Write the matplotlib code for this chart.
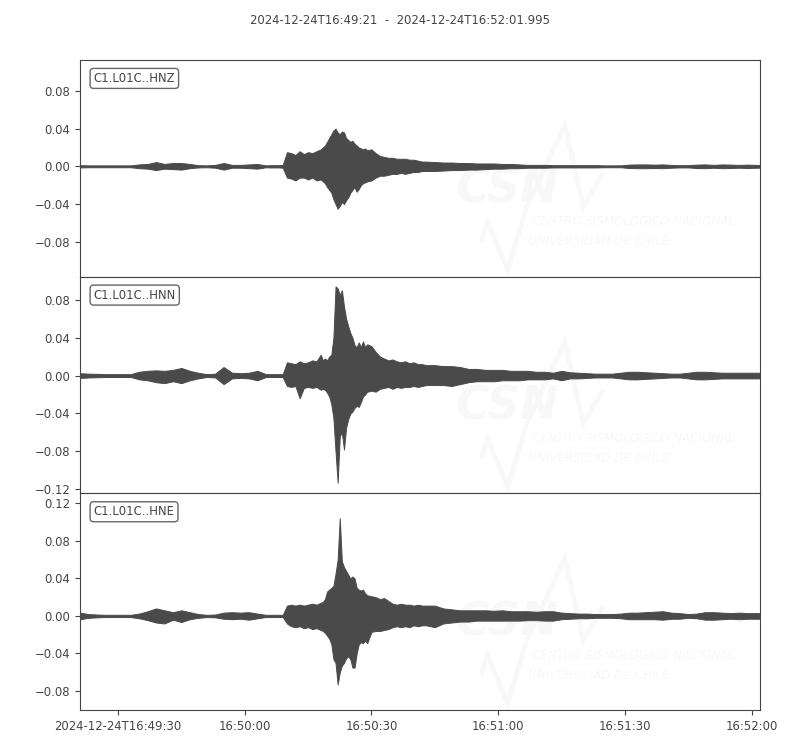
import datetime as dt
import numpy as np
import matplotlib
matplotlib.use("Agg")
import matplotlib.pyplot as plt
import matplotlib.dates as mdates
from matplotlib.ticker import MultipleLocator, FuncFormatter, FixedLocator, FixedFormatter

# ---------------- data ----------------
start_time = "2024-12-24T16:49:21"
end_time = "2024-12-24T16:52:01.995"
channels = ["C1.L01C..HNZ", "C1.L01C..HNN", "C1.L01C..HNE"]

# envelope sample times, seconds after start
times = [0, 2, 4, 6, 8, 10, 12, 14, 16, 18, 20, 22, 24, 26, 28, 30, 32, 34, 36, 38, 40, 42, 44,
         45, 46, 47, 48, 49, 50, 51, 52, 53, 54, 55, 56, 57,
         57.5, 58, 58.5, 59, 59.5, 60, 60.5, 61, 61.5, 62, 62.5, 63, 63.5, 64, 64.5, 65, 65.5,
         66, 66.5, 67, 67.5, 68,
         69, 70, 71, 72, 73, 74, 75, 76, 77, 78, 79, 80, 81, 82,
         84, 86, 88, 90, 92, 94, 96, 98, 100, 102, 104, 106, 108, 110, 112, 114, 116, 118, 120,
         122, 124, 126, 128, 130, 132, 134, 136, 138, 140, 142, 144, 146, 148, 150, 152, 154,
         156, 158, 160, 161]

# HNZ envelope (m/s^2): upper maxima and lower minima (magnitudes)
hnz_upper = [0.0012, 0.001, 0.001, 0.001, 0.001, 0.001, 0.001, 0.002, 0.0025, 0.0045, 0.0025, 0.0035,
             0.0035, 0.0025, 0.0012, 0.001, 0.0015, 0.0035, 0.0015, 0.0015, 0.002, 0.0025, 0.001,
             0.0012, 0.0012, 0.0012, 0.0015, 0.015, 0.014, 0.012, 0.016, 0.013, 0.015, 0.014, 0.016, 0.018,
             0.020, 0.022, 0.026, 0.030, 0.034, 0.038, 0.040, 0.036, 0.034, 0.037, 0.036, 0.030, 0.028,
             0.026, 0.027, 0.024, 0.022, 0.020, 0.019, 0.018, 0.019, 0.017,
             0.018, 0.014, 0.011, 0.010, 0.009, 0.009, 0.008, 0.008, 0.008, 0.007, 0.007, 0.006, 0.005, 0.005,
             0.0045, 0.004, 0.004, 0.0035, 0.0035, 0.003, 0.003, 0.003, 0.0025, 0.0025, 0.002, 0.0015, 0.0015,
             0.0015, 0.0012, 0.0012, 0.0012, 0.0012, 0.0012, 0.0012, 0.001, 0.001, 0.001, 0.0018, 0.002, 0.002,
             0.0018, 0.002, 0.0015, 0.0012, 0.0012, 0.0018, 0.002, 0.0015, 0.002, 0.0018, 0.0015, 0.0018,
             0.0015, 0.0015]
hnz_lower = [0.0012, 0.001, 0.001, 0.001, 0.001, 0.001, 0.001, 0.002, 0.0025, 0.004, 0.0025, 0.003,
             0.0035, 0.002, 0.0012, 0.001, 0.0015, 0.0035, 0.0015, 0.0015, 0.002, 0.0025, 0.001,
             0.0012, 0.0012, 0.0012, 0.0015, 0.012, 0.013, 0.015, 0.012, 0.012, 0.014, 0.012, 0.015, 0.014,
             0.016, 0.018, 0.022, 0.025, 0.028, 0.035, 0.040, 0.045, 0.042, 0.038, 0.040, 0.036, 0.033,
             0.028, 0.025, 0.022, 0.027, 0.024, 0.020, 0.018, 0.017, 0.016,
             0.015, 0.012, 0.010, 0.010, 0.009, 0.008, 0.008, 0.007, 0.008, 0.007, 0.006, 0.006, 0.005, 0.005,
             0.005, 0.0045, 0.004, 0.004, 0.0035, 0.0035, 0.003, 0.0025, 0.0025, 0.002, 0.002, 0.0015, 0.0015,
             0.0015, 0.0012, 0.0012, 0.0012, 0.0012, 0.0012, 0.0012, 0.001, 0.001, 0.001, 0.0018, 0.002, 0.002,
             0.0018, 0.002, 0.0015, 0.0012, 0.0012, 0.0018, 0.002, 0.0015, 0.002, 0.0018, 0.0015, 0.0018,
             0.0015, 0.0015]

# HNN envelope
hnn_upper = [0.0025, 0.002, 0.0018, 0.0015, 0.0015, 0.0015, 0.0015, 0.004, 0.005, 0.0055, 0.005, 0.006,
             0.008, 0.005, 0.003, 0.0015, 0.002, 0.009, 0.003, 0.0025, 0.003, 0.005, 0.0015,
             0.0015, 0.0015, 0.0015, 0.0015, 0.014, 0.013, 0.012, 0.015, 0.013, 0.014, 0.016, 0.015, 0.022,
             0.016, 0.018, 0.016, 0.020, 0.022, 0.040, 0.094, 0.092, 0.085, 0.090, 0.073, 0.060, 0.052,
             0.045, 0.040, 0.032, 0.030, 0.035, 0.030, 0.036, 0.030, 0.033,
             0.031, 0.025, 0.020, 0.018, 0.016, 0.017, 0.015, 0.014, 0.015, 0.013, 0.014, 0.012, 0.012, 0.011,
             0.011, 0.010, 0.010, 0.009, 0.007, 0.007, 0.006, 0.006, 0.006, 0.005, 0.005, 0.005, 0.004,
             0.004, 0.003, 0.005, 0.0035, 0.003, 0.0025, 0.002, 0.002, 0.002, 0.003, 0.004, 0.004,
             0.0035, 0.003, 0.0025, 0.002, 0.002, 0.003, 0.004, 0.004, 0.0035, 0.003, 0.003, 0.003,
             0.003, 0.003, 0.003]
hnn_lower = [0.0025, 0.002, 0.0018, 0.0015, 0.0015, 0.0015, 0.0015, 0.004, 0.005, 0.007, 0.008, 0.006,
             0.008, 0.005, 0.003, 0.0015, 0.002, 0.009, 0.003, 0.0025, 0.003, 0.005, 0.0015,
             0.0015, 0.0015, 0.0015, 0.0015, 0.011, 0.012, 0.011, 0.024, 0.013, 0.012, 0.013, 0.012, 0.015,
             0.014, 0.015, 0.018, 0.022, 0.030, 0.045, 0.080, 0.113, 0.064, 0.060, 0.078, 0.055, 0.046,
             0.040, 0.038, 0.034, 0.032, 0.033, 0.028, 0.022, 0.020, 0.017,
             0.016, 0.017, 0.014, 0.013, 0.012, 0.014, 0.012, 0.013, 0.012, 0.012, 0.011, 0.012, 0.011, 0.010,
             0.010, 0.010, 0.011, 0.009, 0.007, 0.006, 0.006, 0.006, 0.005, 0.005, 0.005, 0.004, 0.004,
             0.004, 0.003, 0.005, 0.003, 0.003, 0.0025, 0.002, 0.002, 0.002, 0.003, 0.004, 0.004,
             0.0035, 0.003, 0.0025, 0.002, 0.002, 0.003, 0.004, 0.004, 0.0035, 0.003, 0.003, 0.003,
             0.003, 0.003, 0.003]

# HNE envelope
hne_upper = [0.0035, 0.002, 0.0015, 0.0012, 0.0012, 0.0012, 0.0012, 0.0025, 0.005, 0.008, 0.006, 0.004,
             0.006, 0.004, 0.002, 0.0012, 0.0015, 0.0035, 0.004, 0.0035, 0.004, 0.0025, 0.0012,
             0.0012, 0.0012, 0.0012, 0.0012, 0.011, 0.012, 0.011, 0.012, 0.011, 0.012, 0.013, 0.012, 0.014,
             0.015, 0.018, 0.026, 0.028, 0.030, 0.032, 0.045, 0.060, 0.104, 0.058, 0.052, 0.048, 0.044,
             0.040, 0.042, 0.040, 0.030, 0.028, 0.027, 0.028, 0.024, 0.022,
             0.021, 0.020, 0.018, 0.019, 0.016, 0.013, 0.012, 0.013, 0.012, 0.012, 0.011, 0.012, 0.011, 0.011,
             0.011, 0.008, 0.007, 0.006, 0.006, 0.006, 0.006, 0.0055, 0.006, 0.005, 0.005, 0.005, 0.0045,
             0.005, 0.005, 0.0035, 0.003, 0.0025, 0.0025, 0.002, 0.002, 0.002, 0.0025, 0.0035, 0.0035,
             0.004, 0.0045, 0.005, 0.0035, 0.003, 0.002, 0.0025, 0.004, 0.004, 0.0035, 0.003, 0.0035,
             0.003, 0.003, 0.003]
hne_lower = [0.0035, 0.002, 0.0015, 0.0012, 0.0012, 0.0012, 0.0012, 0.0025, 0.0045, 0.007, 0.008, 0.004,
             0.0065, 0.0035, 0.002, 0.0012, 0.0015, 0.003, 0.0035, 0.003, 0.004, 0.0025, 0.0012,
             0.0012, 0.0012, 0.0012, 0.0012, 0.008, 0.011, 0.012, 0.011, 0.013, 0.012, 0.014, 0.013, 0.015,
             0.016, 0.018, 0.021, 0.024, 0.030, 0.046, 0.050, 0.073, 0.060, 0.053, 0.050, 0.045, 0.043,
             0.046, 0.055, 0.055, 0.040, 0.030, 0.028, 0.029, 0.026, 0.029,
             0.017, 0.016, 0.016, 0.015, 0.014, 0.012, 0.011, 0.012, 0.011, 0.012, 0.010, 0.011, 0.010, 0.010,
             0.012, 0.008, 0.007, 0.006, 0.006, 0.005, 0.005, 0.005, 0.005, 0.005, 0.005, 0.0045, 0.0045,
             0.005, 0.005, 0.0035, 0.003, 0.0025, 0.0025, 0.002, 0.002, 0.002, 0.0025, 0.0035, 0.0035,
             0.0035, 0.0035, 0.004, 0.003, 0.003, 0.002, 0.0025, 0.004, 0.004, 0.0035, 0.003, 0.0035,
             0.003, 0.003, 0.003]

upper = [hnz_upper, hnn_upper, hne_upper]
lower = [hnz_lower, hnn_lower, hne_lower]

y_limits = [(-0.1171, 0.1128), (-0.1242, 0.1043), (-0.1002, 0.1306)]

tick_times = ["2024-12-24T16:49:30", "2024-12-24T16:50:00", "2024-12-24T16:50:30",
              "2024-12-24T16:51:00", "2024-12-24T16:51:30", "2024-12-24T16:52:00"]
tick_labels = ["2024-12-24T16:49:30", "16:50:00", "16:50:30", "16:51:00", "16:51:30", "16:52:00"]

# ---------------- plot ----------------
TXT = "#444444"
TRACE = "#4a4a4a"
WM = "#f8f8f8"
FS = 8.4
plt.rcParams["font.family"] = ["DejaVu Sans"]

t0 = dt.datetime.fromisoformat(start_time)
t_end = dt.datetime.fromisoformat(end_time)
x0 = mdates.date2num(t0)
x = x0 + np.asarray(times) / 86400.0

fig = plt.figure(figsize=(8, 7.5), dpi=100)
left, right, bottom, top = 0.1, 0.95, 1 - 710 / 750, 1 - 60 / 750
h = (top - bottom) / 3
axes = []
for i in range(3):
    ax = fig.add_axes([left, top - (i + 1) * h, right - left, h],
                      sharex=axes[0] if axes else None)
    axes.append(ax)

for i, ax in enumerate(axes):
    up = np.asarray(upper[i])
    lo = -np.asarray(lower[i])
    ax.fill_between(x, lo, up, color=TRACE, lw=0.7, edgecolor=TRACE, zorder=3)
    ax.set_ylim(*y_limits[i])
    ax.yaxis.set_major_locator(MultipleLocator(0.04))
    ax.yaxis.set_major_formatter(FuncFormatter(
        lambda v, p: ("%.2f" % (0.0 if abs(v) < 1e-9 else v)).replace("-", "\u2212")))
    ax.tick_params(axis="both", colors=TXT, labelsize=FS, labelcolor=TXT)
    for sp in ax.spines.values():
        sp.set_color(TXT)
    ax.text(0.02, 0.915, channels[i], transform=ax.transAxes, fontsize=FS, color=TXT,
            va="center", ha="left", zorder=6,
            bbox=dict(boxstyle="round,pad=0.3", fc="white", ec="#666666", lw=1))
    # faint CSN watermark (decoration)
    ax.plot([0.591, 0.599, 0.629, 0.657, 0.713, 0.740, 0.768],
            [0.170, 0.253, 0.032, 0.323, 0.700, 0.323, 0.470],
            transform=ax.transAxes, color=WM, lw=3.5, zorder=1, solid_joinstyle="miter")
    ax.text(0.628, 0.40, "CSN", transform=ax.transAxes, fontsize=33, fontweight="bold",
            style="italic", color=WM, ha="center", va="center", zorder=1)
    ax.text(0.665, 0.253, "CENTRO SISMOLÓGICO NACIONAL", transform=ax.transAxes, fontsize=8.6,
            style="italic", color=WM, ha="left", va="center", zorder=1, clip_on=True)
    ax.text(0.659, 0.161, "UNIVERSIDAD DE CHILE", transform=ax.transAxes, fontsize=8.6,
            style="italic", color=WM, ha="left", va="center", zorder=1, clip_on=True)

axes[0].set_xlim(x0, mdates.date2num(t_end))
tick_x = [mdates.date2num(dt.datetime.fromisoformat(s)) for s in tick_times]
for ax in axes[:2]:
    ax.tick_params(axis="x", bottom=False, labelbottom=False)
axes[2].xaxis.set_major_locator(FixedLocator(tick_x))
axes[2].xaxis.set_major_formatter(FixedFormatter(tick_labels))

fig.suptitle(f"{start_time}  -  {end_time}", y=1 - 20 / 750, fontsize=FS, color=TXT, va="center")

fig.savefig("out.png", dpi=100)
